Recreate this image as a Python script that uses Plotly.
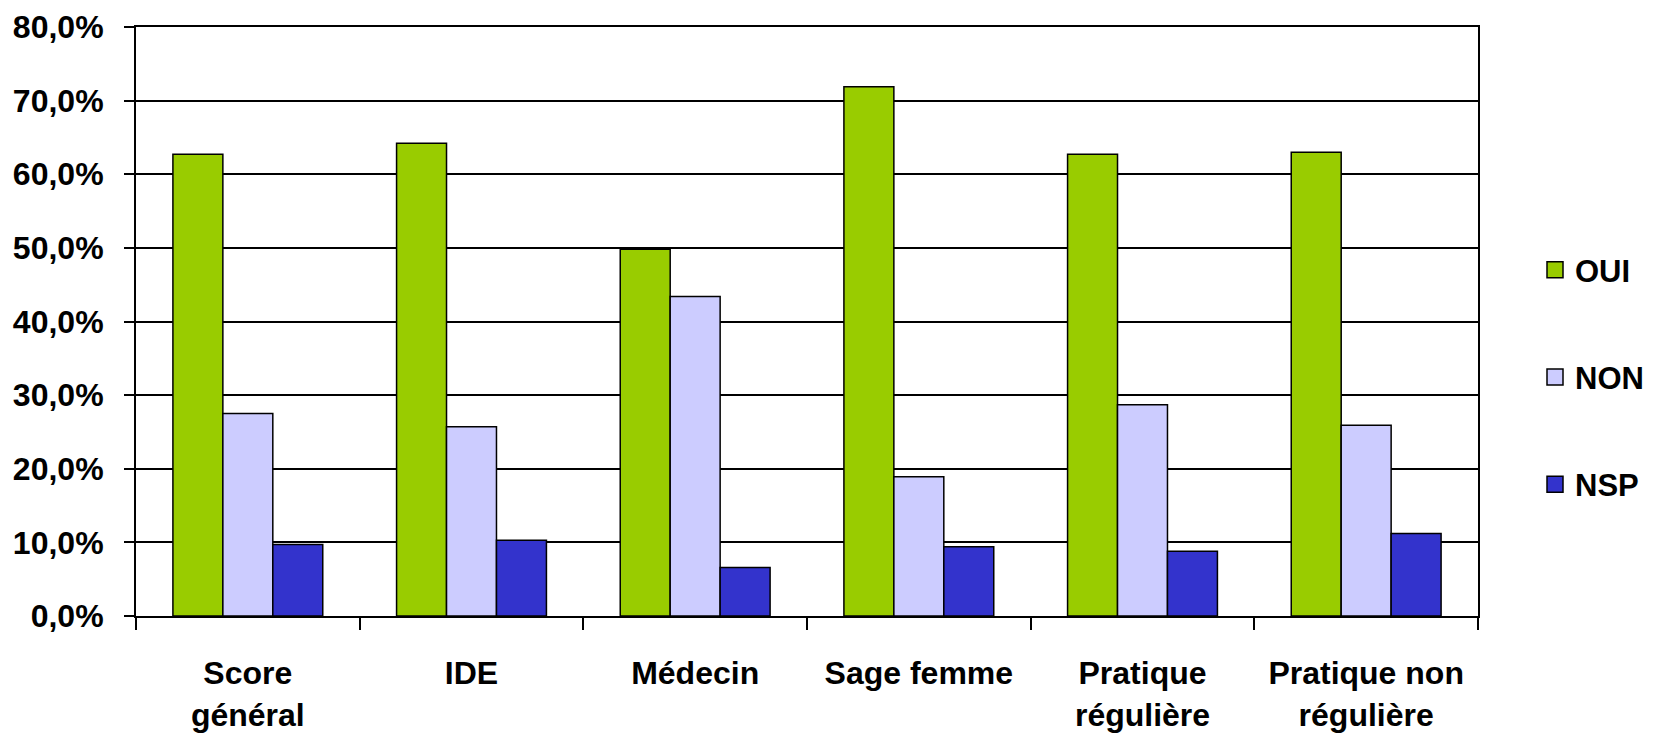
import plotly.graph_objects as go

categories = ["Score<br>général", "IDE", "Médecin", "Sage femme", "Pratique<br>régulière", "Pratique non<br>régulière"]
oui = [62.7, 64.2, 49.8, 71.9, 62.7, 63.0]
non = [27.5, 25.7, 43.4, 18.9, 28.7, 25.9]
nsp = [9.7, 10.3, 6.6, 9.4, 8.8, 11.2]
series_names = ["OUI", "NON", "NSP"]
series_colors = ["#99CC00", "#CCCCFF", "#3333CC"]
y_tickvals = [0, 10, 20, 30, 40, 50, 60, 70, 80]
y_ticktext = ["0,0%", "10,0%", "20,0%", "30,0%", "40,0%", "50,0%", "60,0%", "70,0%", "80,0%"]

FONT = "Liberation Sans, Arial, sans-serif"
W, H = 1649, 732  # page body has an 8px margin

fig = go.Figure()
for name, vals, col in zip(series_names, [oui, non, nsp], series_colors):
    fig.add_trace(go.Bar(
        x=categories, y=vals, name=name, showlegend=False,
        marker=dict(color=col, line=dict(color="black", width=1.5)),
    ))
# legend proxies (larger square symbols)
for i, (name, col) in enumerate(zip(series_names, series_colors)):
    fig.add_trace(go.Scatter(
        x=[None], y=[None], mode="markers", name=name, legendgroup=f"g{i}",
        marker=dict(symbol="square", size=19, color=col, line=dict(color="black", width=1.5)),
    ))

fig.update_layout(
    width=W, height=H,
    margin=dict(l=128, r=179, t=19, b=124),
    paper_bgcolor="white", plot_bgcolor="white",
    barmode="group", bargap=0.33, bargroupgap=0,
    font=dict(family=FONT, size=30, color="black", weight="bold"),
    legend=dict(
        xref="container", yref="container", x=1527 / W, y=1 - 369 / H,
        xanchor="left", yanchor="middle",
        font=dict(family=FONT, size=31, color="black", weight="bold"),
        tracegroupgap=64, itemsizing="trace",
        bgcolor="rgba(0,0,0,0)",
    ),
)
fig.update_xaxes(
    showline=True, linecolor="black", linewidth=2, mirror=True,
    ticks="outside", ticklen=12, tickcolor="black", tickwidth=1.5,
    tickson="boundaries", showgrid=False, automargin=False,
    ticklabelstandoff=28,
    tickfont=dict(family=FONT, size=32, color="black", weight="bold"),
)
fig.update_yaxes(
    range=[0, 80], tickvals=y_tickvals, ticktext=y_ticktext,
    showline=True, linecolor="black", linewidth=2, mirror=True,
    ticks="outside", ticklen=10, tickcolor="black", tickwidth=1.5,
    showgrid=True, gridcolor="black", gridwidth=2, automargin=False,
    zeroline=False, ticklabelstandoff=14,
    tickfont=dict(family=FONT, size=32, color="black", weight="bold"),
)

fig.write_html("out.html")
